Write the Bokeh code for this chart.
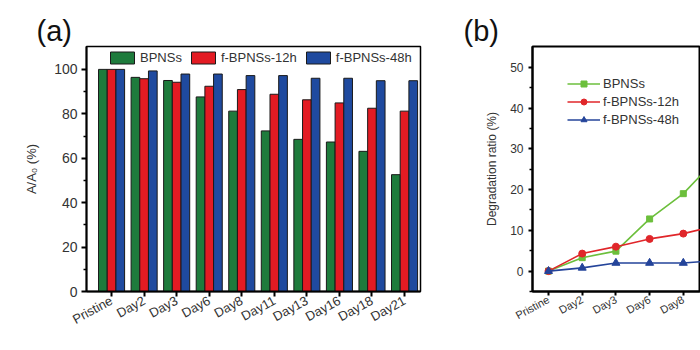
from bokeh.plotting import figure
from bokeh.layouts import row
from bokeh.models import ColumnDataSource, FixedTicker, Legend, LegendItem
from bokeh.transform import dodge
from bokeh.embed import file_html
from bokeh.resources import INLINE

# ---------------- data ----------------
days = ["Pristine", "Day2", "Day3", "Day6", "Day8", "Day11", "Day13", "Day16", "Day18", "Day21"]
series_names = ["BPNSs", "f-BPNSs-12h", "f-BPNSs-48h"]

# panel (a): A/A0 (%)
bpns = [100, 96.4, 95.0, 87.6, 81.2, 72.3, 68.5, 67.3, 63.1, 52.6]
f12 = [100, 95.8, 94.2, 92.4, 90.9, 88.8, 86.3, 84.9, 82.5, 81.2]
f48 = [100, 99.3, 97.9, 97.9, 97.2, 97.2, 96.0, 96.0, 94.9, 94.9]

# panel (b): degradation ratio (%)
deg_bpns = [0, 3.3, 4.9, 12.8, 19.0, 27.7, 31.5, 32.7, 36.9, 47.4]
deg_f12 = [0, 4.3, 6.0, 7.9, 9.2, 11.2, 13.7, 15.1, 17.5, 18.8]
deg_f48 = [0, 0.8, 2.0, 2.0, 2.0, 2.6, 4.0, 4.0, 5.1, 5.1]

FONT = "Liberation Sans"
TXT = "#333333"
idx = list(range(len(days)))
TOP, BOTTOM = 46, 59


def style_title(p, text, offset):
    p.title.text = text
    p.title.text_font = FONT
    p.title.text_font_size = "29px"
    p.title.text_font_style = "normal"
    p.title.text_color = "#111111"
    p.title.align = "left"
    p.title.offset = offset
    p.title.standoff = 0
    p.title.vertical_align = "bottom"


def style_axis(ax, tick_out):
    ax.axis_line_width = 2
    ax.major_tick_line_width = 2
    ax.minor_tick_line_width = 1.5
    ax.major_tick_in = 0
    ax.major_tick_out = tick_out
    ax.minor_tick_in = 0
    ax.minor_tick_out = 3
    ax.major_label_text_font = FONT
    ax.major_label_text_color = TXT
    ax.axis_label_text_font = FONT
    ax.axis_label_text_font_style = "normal"
    ax.axis_label_text_color = TXT


# ---------------- panel (a) ----------------
src_a = ColumnDataSource(dict(x=idx, bpns=bpns, f12=f12, f48=f48))

pa = figure(width=455, height=350, x_range=(-0.77, 9.49), y_range=(0, 110.3),
            output_backend="svg", toolbar_location=None,
            min_border_left=86, min_border_right=35, min_border_top=TOP, min_border_bottom=BOTTOM)
pa.xgrid.visible = False
pa.ygrid.visible = False
pa.outline_line_color = "black"
pa.outline_line_width = 1.5
style_title(pa, "(a)", -50)

bw = 0.267
cols_a = ["#1e7b3c", "#e31b23", "#1f4a9f"]
r1 = pa.vbar(x=dodge("x", -bw, range=pa.x_range), top="bpns", width=bw, source=src_a,
             fill_color=cols_a[0], line_color="#1a1a1a", line_width=1)
r2 = pa.vbar(x=dodge("x", 0, range=pa.x_range), top="f12", width=bw, source=src_a,
             fill_color=cols_a[1], line_color="#1a1a1a", line_width=1)
r3 = pa.vbar(x=dodge("x", bw, range=pa.x_range), top="f48", width=bw, source=src_a,
             fill_color=cols_a[2], line_color="#1a1a1a", line_width=1)

leg_a = Legend(items=[LegendItem(label=series_names[0], renderers=[r1]),
                      LegendItem(label=series_names[1], renderers=[r2]),
                      LegendItem(label=series_names[2], renderers=[r3])],
               orientation="horizontal", location=(21, 226), padding=0, margin=0,
               spacing=6, glyph_width=30, glyph_height=15, label_height=15,
               label_standoff=3, label_text_font=FONT, label_text_font_size="13px",
               label_text_color=TXT, background_fill_alpha=0, border_line_color=None)
pa.add_layout(leg_a)

ax_ax = pa.below[0]
ax_ay = pa.left[0]
ax_ay.ticker = FixedTicker(ticks=[0, 20, 40, 60, 80, 100], minor_ticks=[10, 30, 50, 70, 90])
ax_ax.ticker = FixedTicker(ticks=idx)
ax_ax.major_label_overrides = {i: d for i, d in enumerate(days)}
ax_ax.major_label_orientation = 0.5
ax_ay.axis_label = "A/A₀ (%)"
style_axis(ax_ax, 5)
style_axis(ax_ay, 5)
ax_ax.minor_tick_line_color = None
ax_ay.major_label_text_font_size = "14px"
ax_ax.major_label_text_font_size = "13px"
ax_ay.major_label_standoff = 4
ax_ax.major_label_standoff = 3
ax_ay.axis_label_text_font_size = "13px"
ax_ay.axis_label_standoff = 12

# ---------------- panel (b) ----------------
X_B = (-0.475, 4.51)
Y_B = (-5, 55.1)
src_b = ColumnDataSource(dict(x=idx, g=deg_bpns, r=deg_f12, b=deg_f48))
pb = figure(width=245, height=350, x_range=X_B, y_range=Y_B,
            output_backend="svg", toolbar_location=None,
            min_border_left=77, min_border_right=0, min_border_top=TOP, min_border_bottom=BOTTOM)
pb.xgrid.visible = False
pb.ygrid.visible = False
pb.outline_line_color = "black"
pb.outline_line_width = 2
style_title(pb, "(b)", -69)

cols_b = ["#6cbf3c", "#e0262a", "#24449a"]
l1 = pb.line("x", "g", source=src_b, line_color=cols_b[0], line_width=1.6)
m1 = pb.scatter("x", "g", source=src_b, marker="square", size=6, fill_color=cols_b[0], line_color=cols_b[0])
l2 = pb.line("x", "r", source=src_b, line_color=cols_b[1], line_width=1.6)
m2 = pb.scatter("x", "r", source=src_b, marker="circle", size=7, fill_color=cols_b[1], line_color=cols_b[1])
l3 = pb.line("x", "b", source=src_b, line_color=cols_b[2], line_width=1.6)
m3 = pb.scatter("x", "b", source=src_b, marker="triangle", size=8, fill_color=cols_b[2], line_color=cols_b[2])

leg_b = Legend(items=[LegendItem(label=series_names[0], renderers=[l1, m1]),
                      LegendItem(label=series_names[1], renderers=[l2, m2]),
                      LegendItem(label=series_names[2], renderers=[l3, m3])],
               orientation="vertical", location=(35, 164), padding=0, margin=0,
               spacing=3, glyph_width=33, glyph_height=15, label_height=15,
               label_standoff=3, label_text_font=FONT, label_text_font_size="13px",
               label_text_color=TXT, background_fill_alpha=0, border_line_color=None)
pb.add_layout(leg_b)

bx = pb.below[0]
by = pb.left[0]
by.ticker = FixedTicker(ticks=[0, 10, 20, 30, 40, 50], minor_ticks=[-5, 5, 15, 25, 35, 45])
bx.ticker = FixedTicker(ticks=idx)
bx.major_label_overrides = {i: d for i, d in enumerate(days)}
bx.major_label_orientation = 0.5
by.axis_label = "Degradation ratio (%)"
style_axis(bx, 4)
style_axis(by, 4)
bx.minor_tick_line_color = None
by.major_label_text_font_size = "12px"
bx.major_label_text_font_size = "11px"
by.major_label_standoff = 5
bx.major_label_standoff = 3
by.axis_label_text_font_size = "12px"
by.axis_label_standoff = 8

layout = row(pa, pb, spacing=0)
open("out.html", "w").write(file_html(layout, INLINE))
